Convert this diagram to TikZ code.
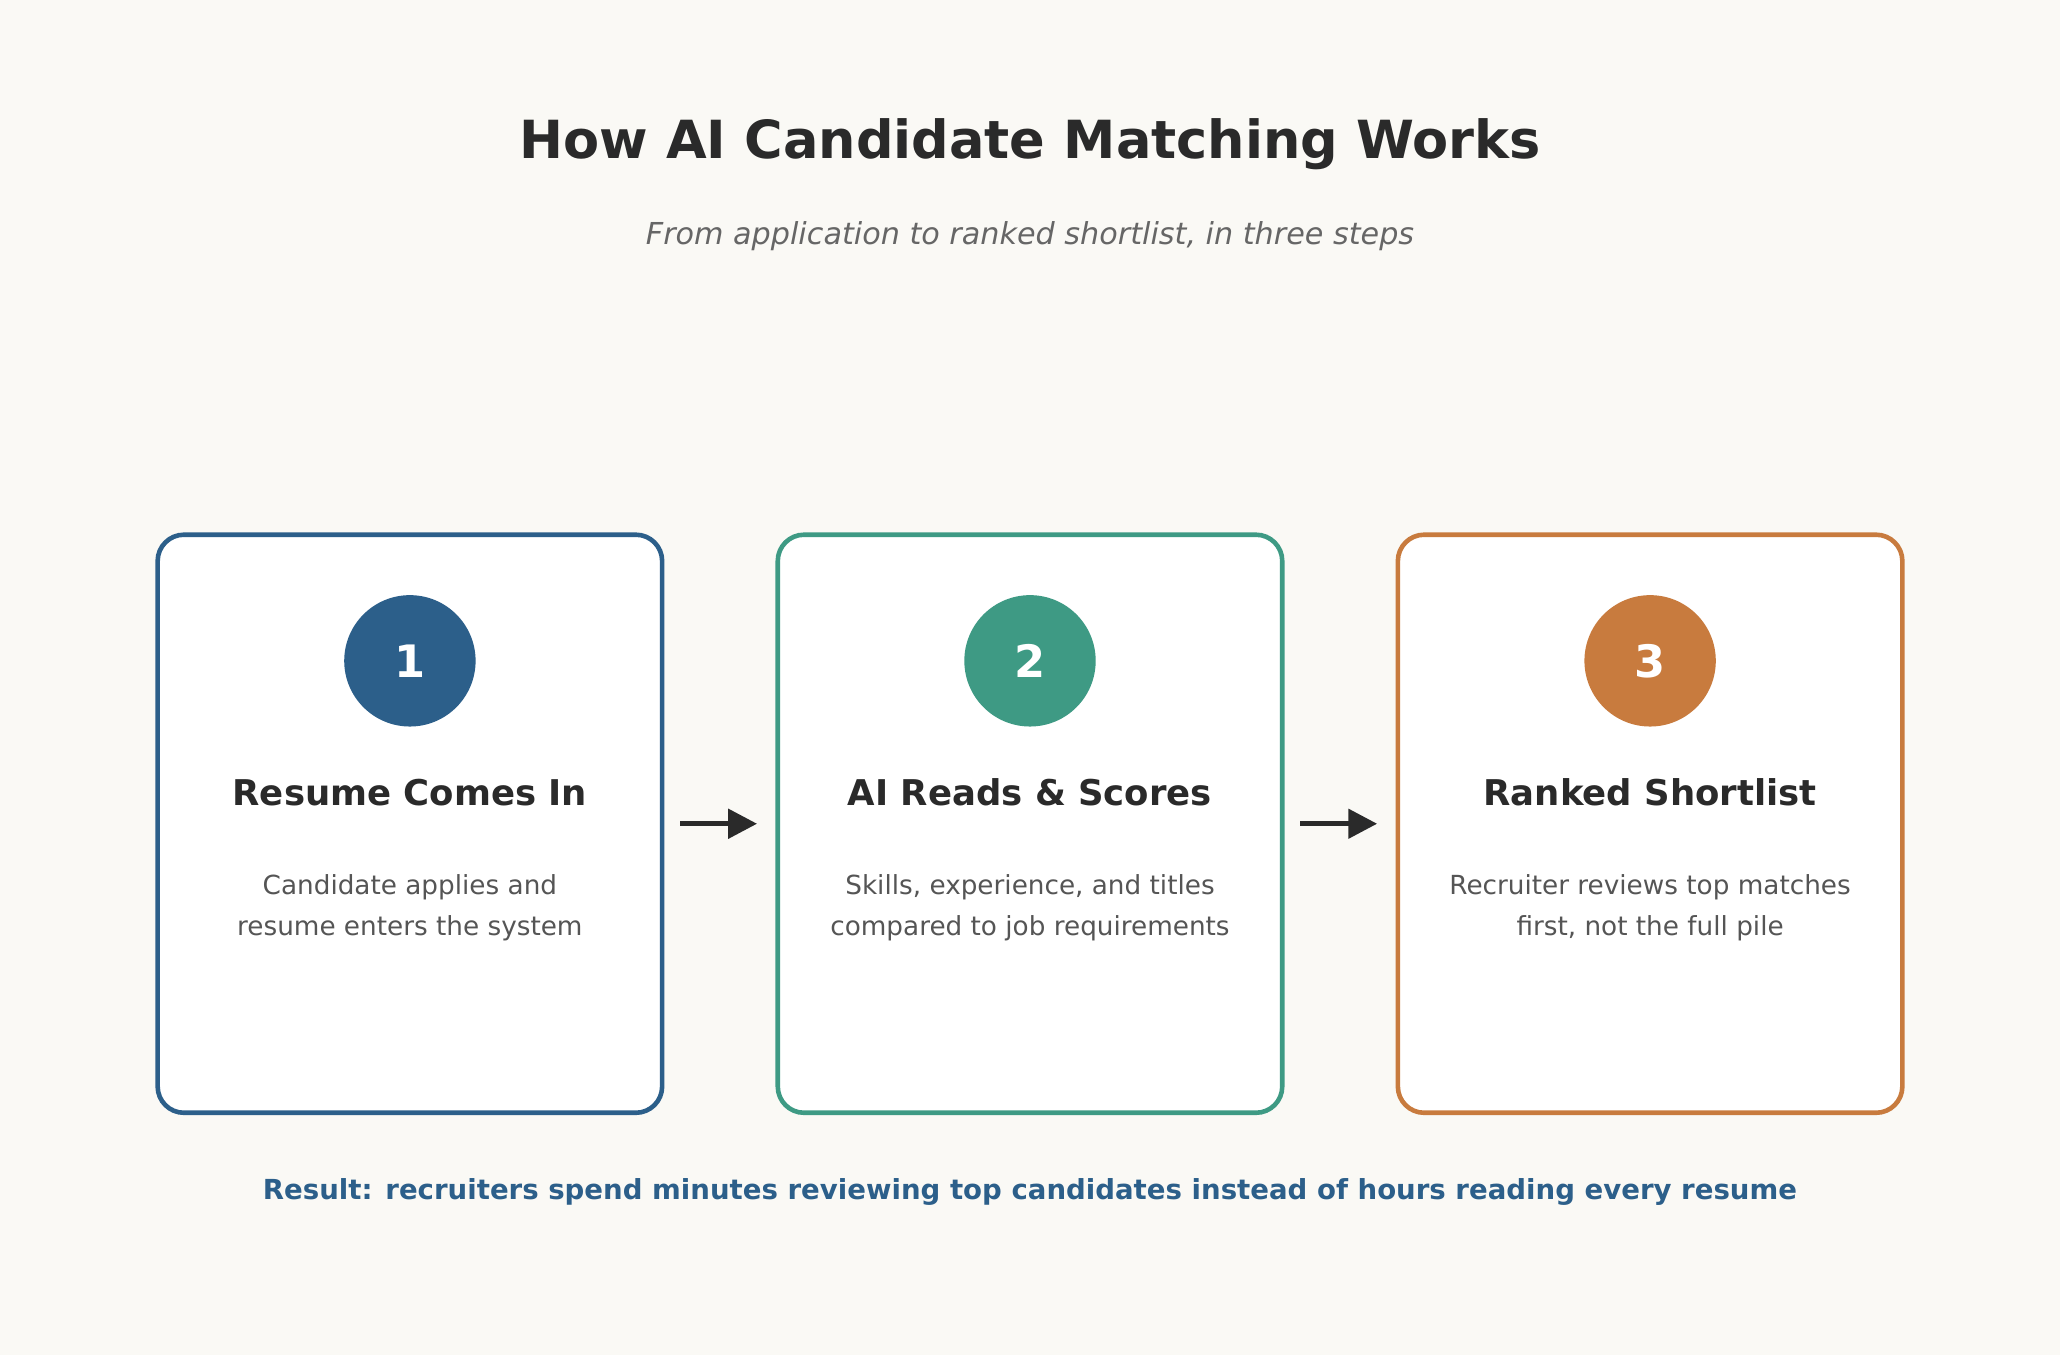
\documentclass[tikz,border=0pt]{standalone}
\usepackage{fontspec}
\setmainfont{DejaVu Sans}
\usetikzlibrary{arrows.meta}
\definecolor{bg}{HTML}{FAF9F5}
\definecolor{cblue}{HTML}{2C5F8A}
\definecolor{cteal}{HTML}{3E9A84}
\definecolor{corange}{HTML}{C87B3E}
\definecolor{dark}{HTML}{2A2A2A}
\definecolor{gtext}{HTML}{555555}
\definecolor{stext}{HTML}{666666}
\begin{document}
\begin{tikzpicture}[x=1pt,y=-1pt,
 card/.style={draw=#1,line width=3.5pt,fill=white,rounded corners=20pt,minimum width=384pt,minimum height=440pt,inner sep=0pt},
 num/.style={circle,fill=#1,minimum size=100pt,inner sep=0pt,text=white,font=\fontsize{34}{40}\selectfont\bfseries},
 ttl/.style={text=dark,font=\fontsize{27}{32}\selectfont\bfseries},
 body/.style={text=gtext,font=\fontsize{20}{31}\selectfont,align=center},
 arr/.style={-{Triangle[length=22pt,width=22pt]},line width=4pt,draw=dark}]
\fill[bg] (0,0) rectangle (1568,1031);
\node[text=dark,font=\fontsize{40}{48}\selectfont\bfseries] (title) at (784,110) {How AI Candidate Matching Works};
\node[text=stext,font=\fontsize{23}{28}\selectfont\itshape] (sub) at (784,180) {From application to ranked shortlist, in three steps};
\foreach \i/\x/\c in {1/312/cblue,2/784/cteal,3/1256/corange}{
  \node[card=\c] (card\i) at (\x,627) {};
  \node[num=\c] (n\i) at (\x,503) {\i};
}
\node[ttl] (t1) at (312,603) {Resume Comes In};
\node[ttl] (t2) at (784,603) {AI Reads \& Scores};
\node[ttl] (t3) at (1256,603) {Ranked Shortlist};
\node[body] (b1) at (312,691) {Candidate applies and\\resume enters the system};
\node[body] (b2) at (784,691) {Skills, experience, and titles\\compared to job requirements};
\node[body] (b3) at (1256,691) {Recruiter reviews top matches\\first, not the full pile};
\draw[arr] ([xshift=12pt]card1.east) -- ([xshift=-14pt]card2.west);
\draw[arr] ([xshift=12pt]card2.east) -- ([xshift=-14pt]card3.west);
\node[text=cblue,font=\fontsize{21}{26}\selectfont\bfseries] (res) at (784,907) {Result: recruiters spend minutes reviewing top candidates instead of hours reading every resume};
\end{tikzpicture}
\end{document}
